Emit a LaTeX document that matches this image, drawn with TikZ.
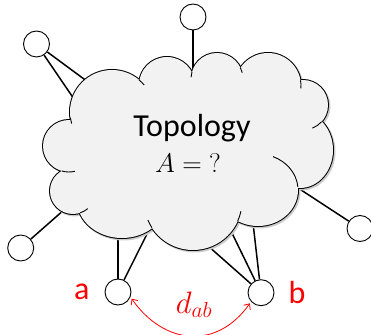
\documentclass[tikz,border=0pt]{standalone}
\usepackage{fix-cm}
\usepackage{fontspec}
\setmainfont{Carlito}
\usetikzlibrary{arrows.meta,positioning}
\definecolor{cloudfill}{HTML}{F2F2F2}

\begin{document}
\begin{tikzpicture}[x=1pt,y=1pt,
  site/.style={circle,draw,fill=white,line width=0.9pt,minimum size=26pt,inner sep=0pt},
  link/.style={line width=1.5pt},
  tag/.style={text=red,inner sep=0pt,font=\fontsize{32}{38}\selectfont}]
  \useasboundingbox (0,0) rectangle (371,334);
  % bumps of the cloud: centre x/centre y/x radius/y radius
  \def\bumps{112/222/42/42,167/249/28/28,217/255/26/26,268/248/33/33,303/229/25/25,300/184/33/38,258/144/40/36,193/133/49/49,122/134/45/38,73/143/23/23,69/188/26/26}

  \node[site] (ntop) at (193,317) {};
  \node[site] (ntl) at (36.5,290) {};
  \node[site] (nbl) at (20.7,86) {};
  \node[site] (nr) at (360,105.5) {};
  \node[site] (na) at (118,42) {};
  \node[site] (nb) at (261,41.3) {};
  \node[tag,left=15pt of na] (la) {a};
  \node[tag,right=14pt of nb] (lb) {b};

  \coordinate (ptop) at (193,258);
  \coordinate (ptl1) at (88,252);
  \coordinate (ptl2) at (74,235);
  \coordinate (pbl) at (65,125);
  \coordinate (prt) at (295,148);
  \coordinate (pa1) at (118,99);
  \coordinate (pa2) at (151,108);
  \coordinate (pb1) at (207,89);
  \coordinate (pb2) at (230,105);
  \coordinate (pb3) at (253,111);
  \foreach \n/\p in {ntop/ptop,ntl/ptl1,ntl/ptl2,nbl/pbl,nr/prt,na/pa1,na/pa2,nb/pb1,nb/pb2,nb/pb3}
    \draw[link] (\n) -- (\p);

  % cloud = union of the bumps, shadow first
  \foreach \cx/\cy/\rx/\ry in \bumps
    \fill[black!20] (\cx+1.5,\cy-1.5) ellipse[x radius=\rx+1,y radius=\ry+1];
  \foreach \cx/\cy/\rx/\ry in \bumps
    \draw[line width=2pt] (\cx,\cy) ellipse[x radius=\rx,y radius=\ry];
  \foreach \cx/\cy/\rx/\ry in \bumps
    \fill[cloudfill] (\cx,\cy) ellipse[x radius=\rx,y radius=\ry];
  \fill[cloudfill] (112,222) -- (167,249) -- (217,255) -- (268,248) -- (303,229) -- (300,184)
    -- (258,144) -- (193,133) -- (122,134) -- (73,143) -- (69,188) -- cycle;
  % short inner arcs where bumps overlap
  \foreach \cx/\cy/\rx/\ry/\from/\to in {112/222/42/42/188/196,112/222/42/42/50/40,
      217/255/26/26/164/176,217/255/26/26/26/14,268/248/33/33/10/-4,303/229/25/25/-42/-68,
      258/144/40/36/5/68,193/133/49/49/-24/-12,193/133/49/49/213/203,73/143/23/23/-72/-50,
      69/188/26/26/254/283}
    \draw[line width=0.9pt] (\cx,\cy) ++({\rx*cos(\from)},{\ry*sin(\from)})
      arc[start angle=\from,end angle=\to,x radius=\rx,y radius=\ry];

  \node[anchor=base,font=\fontsize{32}{38}\selectfont] (title) at (192,197) {Topology};
  \node[anchor=base,font=\fontsize{27}{32}\selectfont] (query) at (188,161) {$A = {?}$};

  \node[anchor=base,text=red,font=\fontsize{31}{36}\selectfont] (dist) at (194,21) {$d_{ab}$};
  \draw[red,line width=0.8pt,{Straight Barb[length=4.5pt,width=8pt]}-{Straight Barb[length=4.5pt,width=8pt]},
    shorten <=2pt,shorten >=2pt] (na.-22) to[out=-55,in=-125,looseness=1.25] (nb.222);
\end{tikzpicture}
\end{document}
